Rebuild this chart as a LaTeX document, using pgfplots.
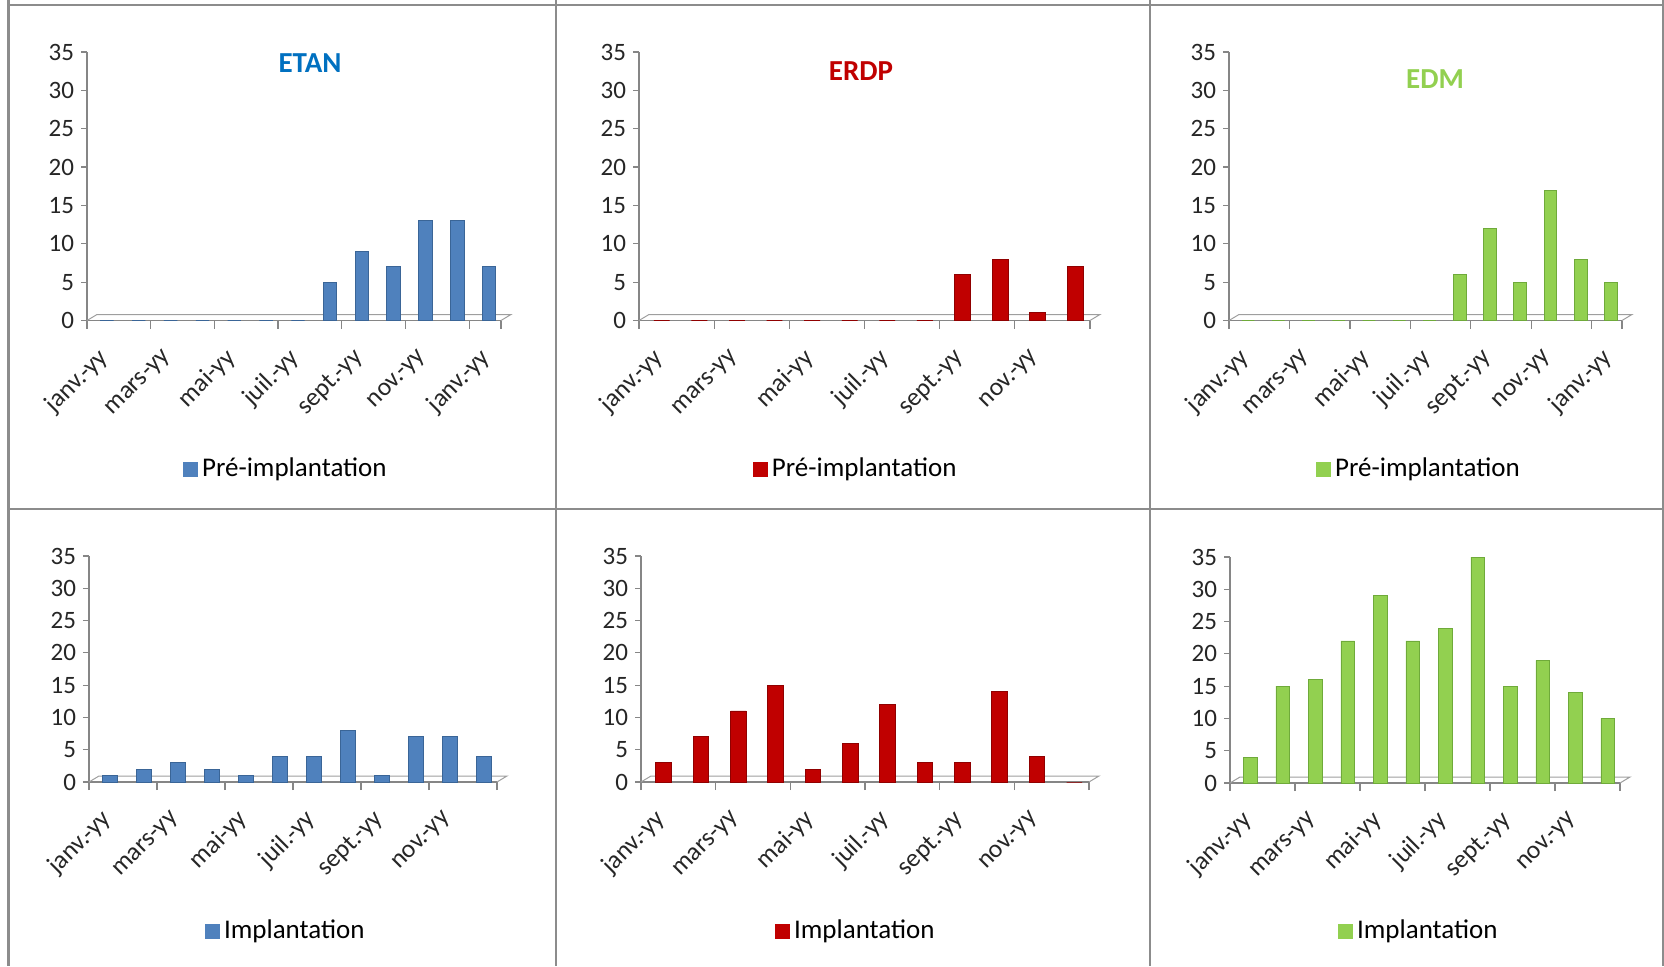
\documentclass[border=0pt]{standalone}
\usepackage{pgfplots}
\pgfplotsset{compat=1.18}
\usepackage{fontspec}
\setmainfont{Carlito}
\definecolor{axisgray}{HTML}{868686}
\definecolor{framegray}{HTML}{8C8C8C}
\definecolor{tickcol}{HTML}{262626}
\definecolor{bmain}{HTML}{4F81BD}
\definecolor{bdark}{HTML}{3A6597}
\definecolor{rmain}{HTML}{C00000}
\definecolor{rdark}{HTML}{900000}
\definecolor{gmain}{HTML}{92D050}
\definecolor{gdark}{HTML}{6FAA3A}
\definecolor{tblue}{HTML}{0070C0}
\tikzset{floor/.style={draw=axisgray!80, line width=0.5pt}}
\pgfplotsset{
  panel/.style={
    scale only axis, axis lines=left,
    axis line style={draw=axisgray, line width=0.6pt, -},
    ymin=0, ymax=35, ytick={0,5,...,35}, xmin=-0.5,
    tick align=outside, major tick length=3pt, minor tick length=4pt,
    major x tick style={draw=none},
    minor x tick style={draw=axisgray, line width=0.6pt},
    ytick style={draw=axisgray, line width=0.6pt},
    yticklabel style={font=\fontsize{12.5}{14}\selectfont, text=tickcol},
    xticklabel style={font=\fontsize{12.8}{15}\selectfont, text=tickcol, xshift=1.5pt, yshift=-13pt, rotate=45, anchor=east, inner sep=1pt},
    /pgf/number format/assume math mode=true,
    clip=false, ybar, bar width=0.42, bar shift=2pt,
    legend style={draw=none, fill=none, font=\fontsize{13.5}{15}\selectfont, anchor=center},
  },
  m13/.style={xmax=12.5, xtick={0,2,...,12},
    xticklabels={janv.-yy,mars-yy,mai-yy,juil.-yy,sept.-yy,nov.-yy,janv.-yy},
    minor xtick={-0.5,1.5,3.5,5.5,7.5,9.5,11.5,12.5}},
  m12/.style={xmax=11.5, xtick={0,2,...,10},
    xticklabels={janv.-yy,mars-yy,mai-yy,juil.-yy,sept.-yy,nov.-yy},
    minor xtick={-0.5,1.5,3.5,5.5,7.5,9.5,11.5}},
  bluebar/.style={draw=bdark, line width=0.4pt, fill=bmain},
  redbar/.style={draw=rdark, line width=0.4pt, fill=rmain},
  greenbar/.style={draw=gdark, line width=0.4pt, fill=gmain},
}
\newcommand{\floorline}[1]{\draw[floor] (axis cs:-0.5,0) -- ([shift={(5pt,3pt)}]axis cs:-0.5,0) -- ([shift={(5pt,3pt)}]axis cs:#1,0) -- (axis cs:#1,0);}
\begin{document}
\begin{tikzpicture}
\path[use as bounding box] (0,0) rectangle (832pt,483pt);
% panel frames
\begin{scope}[draw=framegray, line width=1.2pt]
\draw (4.25pt,483pt) -- (4.25pt,0pt);
\draw (278pt,483pt) -- (278pt,0pt);
\draw (575pt,483pt) -- (575pt,0pt);
\draw (831.5pt,483pt) -- (831.5pt,0pt);
\draw (4.25pt,480.5pt) -- (832pt,480.5pt);
\draw (4.25pt,228.5pt) -- (832pt,228.5pt);
\end{scope}
% P1 ETAN pre
\begin{axis}[panel, m13, at={(43.5pt,322.75pt)}, anchor=south west, width=207pt, height=134.25pt,
  legend style={at={(0.483,-0.553)}},
  legend image code/.code={\fill[bmain] (0pt,-3.5pt) rectangle (7pt,3.5pt);}]
\floorline{12.5}
\addplot[bluebar] coordinates {(0,0) (1,0) (2,0) (3,0) (4,0) (5,0) (6,0) (7,5) (8,9) (9,7) (10,13) (11,13) (12,7)};
\addlegendentry{Pré-implantation}
\end{axis}
% P2 ERDP pre
\begin{axis}[panel, m12, at={(319.5pt,322.75pt)}, anchor=south west, width=225.5pt, height=134.25pt,
  legend style={at={(0.483,-0.553)}},
  legend image code/.code={\fill[rmain] (0pt,-3.5pt) rectangle (7pt,3.5pt);}]
\floorline{11.5}
\addplot[redbar] coordinates {(0,0) (1,0) (2,0) (3,0) (4,0) (5,0) (6,0) (7,0) (8,6) (9,8) (10,1) (11,7)};
\addlegendentry{Pré-implantation}
\end{axis}
% P3 EDM pre
\begin{axis}[panel, m13, at={(614.5pt,322.75pt)}, anchor=south west, width=196.5pt, height=134.25pt,
  legend style={at={(0.486,-0.553)}},
  legend image code/.code={\fill[gmain] (0pt,-3.5pt) rectangle (7pt,3.5pt);}]
\floorline{12.5}
\addplot[greenbar] coordinates {(0,0) (1,0) (2,0) (3,0) (4,0) (5,0) (6,0) (7,6) (8,12) (9,5) (10,17) (11,8) (12,5)};
\addlegendentry{Pré-implantation}
\end{axis}
% P4 ETAN impl
\begin{axis}[panel, m12, at={(44.5pt,92pt)}, anchor=south west, width=204pt, height=113pt,
  legend style={at={(0.485,-0.659)}},
  legend image code/.code={\fill[bmain] (0pt,-3.5pt) rectangle (7pt,3.5pt);}]
\floorline{11.5}
\addplot[bluebar] coordinates {(0,1) (1,2) (2,3) (3,2) (4,1) (5,4) (6,4) (7,8) (8,1) (9,7) (10,7) (11,4)};
\addlegendentry{Implantation}
\end{axis}
% P5 ERDP impl
\begin{axis}[panel, m12, at={(320.5pt,92pt)}, anchor=south west, width=224pt, height=113pt,
  legend style={at={(0.482,-0.659)}},
  legend image code/.code={\fill[rmain] (0pt,-3.5pt) rectangle (7pt,3.5pt);}]
\floorline{11.5}
\addplot[redbar] coordinates {(0,3) (1,7) (2,11) (3,15) (4,2) (5,6) (6,12) (7,3) (8,3) (9,14) (10,4) (11,0)};
\addlegendentry{Implantation}
\end{axis}
% P6 EDM impl
\begin{axis}[panel, m12, at={(615pt,91.5pt)}, anchor=south west, width=195pt, height=113pt,
  legend style={at={(0.487,-0.655)}},
  legend image code/.code={\fill[gmain] (0pt,-3.5pt) rectangle (7pt,3.5pt);}]
\floorline{11.5}
\addplot[greenbar] coordinates {(0,4) (1,15) (2,16) (3,22) (4,29) (5,22) (6,24) (7,35) (8,15) (9,19) (10,14) (11,10)};
\addlegendentry{Implantation}
\end{axis}
% titles
\node[font=\fontsize{14.5}{16}\selectfont\bfseries, text=tblue] at (155pt,451.5pt) {ETAN};
\node[font=\fontsize{14.5}{16}\selectfont\bfseries, text=rmain] at (430.5pt,447.5pt) {ERDP};
\node[font=\fontsize{14.5}{16}\selectfont\bfseries, text=gmain] at (717.5pt,443.5pt) {EDM};
\end{tikzpicture}
\end{document}
